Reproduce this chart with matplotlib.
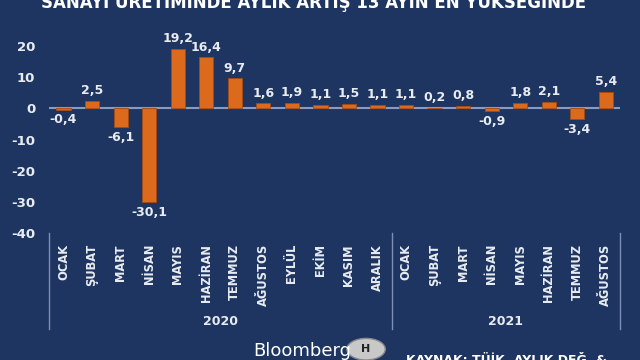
import matplotlib
matplotlib.use("Agg")
import matplotlib.pyplot as plt
from matplotlib.patches import Circle
from matplotlib.transforms import blended_transform_factory

months = ["OCAK", "ŞUBAT", "MART", "NİSAN", "MAYIS", "HAZİRAN", "TEMMUZ",
          "AĞUSTOS", "EYLÜL", "EKİM", "KASIM", "ARALIK",
          "OCAK", "ŞUBAT", "MART", "NİSAN", "MAYIS", "HAZİRAN", "TEMMUZ", "AĞUSTOS"]
values = [-0.4, 2.5, -6.1, -30.1, 19.2, 16.4, 9.7, 1.6, 1.9, 1.1, 1.5, 1.1,
          1.1, 0.2, 0.8, -0.9, 1.8, 2.1, -3.4, 5.4]
years = ["2020", "2021"]
year_counts = [12, 8]
yticks = [-40, -30, -20, -10, 0, 10, 20]

bg = "#1d3560"
txt = "#e8ecf2"
orange = "#dc6a1c"

fig = plt.figure(figsize=(6.4, 3.6), dpi=100, facecolor=bg)
ax = fig.add_axes([0.077, 0.353, 0.892, 0.536], facecolor=bg)

x = list(range(len(values)))
ax.bar(x, values, width=0.5, color=orange, edgecolor="#a84a10", linewidth=0.6, zorder=3)
ax.axhline(0, color="#8a9ac0", lw=1.5, zorder=2)

for xi, v in zip(x, values):
    lab = f"{v:.1f}".replace(".", ",")
    if v >= 0:
        ax.text(xi, v + 1.2, lab, ha="center", va="bottom", color=txt,
                fontsize=9, fontweight="bold", clip_on=False)
    else:
        ax.text(xi, v - 1.2, lab, ha="center", va="top", color=txt,
                fontsize=9, fontweight="bold", clip_on=False)

ax.set_xlim(-0.5, len(values) - 0.5)
ax.set_ylim(-40, 22)
ax.set_yticks(yticks)
ax.set_yticklabels([str(t) for t in yticks], color=txt, fontsize=9.5, fontweight="bold")
ax.set_xticks(x)
ax.set_xticklabels(months, rotation=90, color=txt, fontsize=8.3, fontweight="bold", va="top")
ax.tick_params(axis="both", length=0)
ax.tick_params(axis="x", pad=8)
ax.tick_params(axis="y", pad=10)
for s in ax.spines.values():
    s.set_visible(False)

# year groups and separators
tr = blended_transform_factory(ax.transData, ax.transAxes)
start = 0
bounds = [-0.5]
for yr, n in zip(years, year_counts):
    ax.text(start + (n - 1) / 2, -0.46, yr, transform=tr, ha="center", va="center",
            color=txt, fontsize=9, fontweight="bold")
    start += n
    bounds.append(start - 0.5)
for b in bounds:
    ax.plot([b, b], [0, -0.50], transform=tr, color="#7f8fb3", lw=1, clip_on=False)

fig.text(0.49, 0.995, "SANAYİ ÜRETİMİNDE AYLIK ARTIŞ 13 AYIN EN YÜKSEĞİNDE",
         ha="center", va="center", color="white", fontsize=12, fontweight="bold")

fig.text(0.395, 0.025, "Bloomberg", ha="left", va="center", color="white", fontsize=13)
fig.patches.append(Circle((0.572, 0.03), 0.03, transform=fig.transFigure,
                          facecolor="#c8c8c8", edgecolor="#888888", lw=1))
fig.text(0.572, 0.03, "H", ha="center", va="center", color="#222222",
         fontsize=8, fontweight="bold")
fig.text(0.635, 0.0, "KAYNAK: TÜİK, AYLIK DEĞ. &", ha="left", va="center",
         color="white", fontsize=9, fontweight="bold")

fig.savefig("out.png", dpi=100, facecolor=bg)
